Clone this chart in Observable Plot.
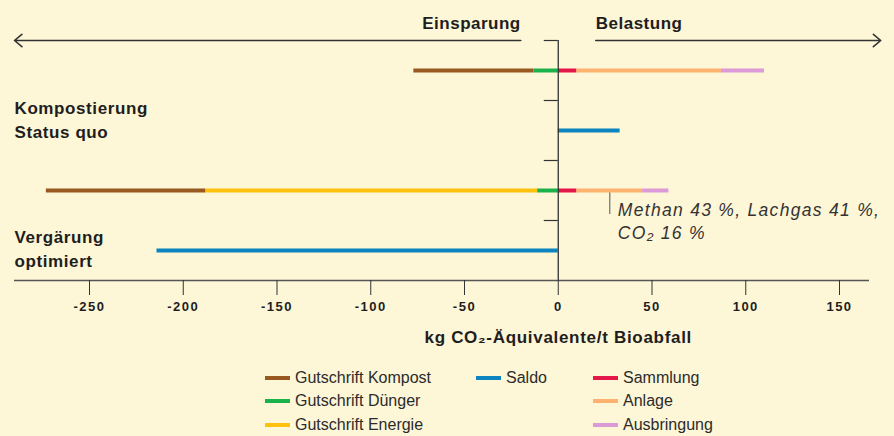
<!DOCTYPE html>
<html><head><meta charset="utf-8">
<script src="https://cdn.jsdelivr.net/npm/d3@7"></script>
<script src="https://cdn.jsdelivr.net/npm/@observablehq/plot@0.6"></script>
<style>
html,body{margin:0;padding:0;background:#fdf6d7;}
#wrap{position:relative;width:894px;height:436px;font-family:"Liberation Sans",Arial,sans-serif;color:#222;overflow:hidden;}
#legend{position:absolute;left:265px;top:366px;display:grid;grid-template-columns:211px 117px auto;grid-auto-rows:23.6px;font-size:16px;color:#2b2b2b;}
.item{display:flex;align-items:center;white-space:nowrap;}
.sw{display:inline-block;width:25px;height:4px;margin-right:5px;}
g[aria-label="x-axis tick label"]{letter-spacing:1.5px;}
</style></head><body>
<div id="wrap"><div id="chart"></div><div id="legend"></div></div>
<script>
// ---- data (kg CO2-Äquivalente / t Bioabfall) ----
const components = ["Gutschrift Kompost","Gutschrift Dünger","Gutschrift Energie","Saldo","Sammlung","Anlage","Ausbringung"];
const colors = ["#97591f","#1cb24b","#fdc20f","#0b84c0","#e4174b","#fdb26f","#dc9ad6"];
const scenarios = ["Kompostierung\nStatus quo","Vergärung\noptimiert"];
// stacking order: credits nearest zero first, then burdens
const stackComponents = ["Gutschrift Dünger","Gutschrift Energie","Gutschrift Kompost","Sammlung","Anlage","Ausbringung"];
const kompostierungValues = [-13, 0, -64, 10, 77, 23];
const vergaerungValues = [-11, -177, -85, 10, 35, 14];
const saldoValues = [33, -214];
const xTicks = [-250,-200,-150,-100,-50,0,50,100,150];
const directionLabels = ["Einsparung","Belastung"];
const directionArrows = [[-20, -290], [20, 172]];
const xTitle = "kg CO₂-Äquivalente/t Bioabfall";
const note = "Methan 43 %, Lachgas 41 %,\nCO₂ 16 %";
const legendColumns = [["Gutschrift Kompost","Gutschrift Dünger","Gutschrift Energie"],["Saldo"],["Sammlung","Anlage","Ausbringung"]];

// ---- tables ----
const segs = [];
[kompostierungValues, vergaerungValues].forEach((vals, i) => vals.forEach((v, j) => {
  if (v !== 0) segs.push({pos: 2 * i + 0.5, comp: stackComponents[j], value: v});
}));
const saldo = saldoValues.map((v, i) => ({pos: 2 * i + 1.5, comp: "Saldo", value: v}));
const arrows = directionLabels.map((l, i) => ({label: l, x1: directionArrows[i][0], x2: directionArrows[i][1]}));
const vi = (name) => vergaerungValues[stackComponents.indexOf(name)];
const pointerX = vi("Sammlung") + vi("Anlage") / 2;

const txt = "#1e1e1e";
const chart = Plot.plot({
  width: 894, height: 360,
  marginTop: 40, marginBottom: 80, marginLeft: 14, marginRight: 25,
  x: {domain: [-290, 166], axis: null},
  y: {domain: [0, 4], reverse: true, axis: null},
  color: {domain: components, range: colors},
  style: {background: "transparent", fontFamily: "'Liberation Sans', Arial, sans-serif", color: txt, overflow: "visible"},
  marks: [
    Plot.ruleX([pointerX], {y1: 2.5, y2: 2.9, stroke: "#555", strokeWidth: 1}),
    Plot.ruleY(segs, Plot.stackX({y: "pos", x: "value", stroke: "comp", strokeWidth: 4})),
    Plot.ruleY(saldo, {y: "pos", x1: 0, x2: "value", stroke: "comp", strokeWidth: 4}),
    Plot.ruleY([0, 1, 2, 3], {x1: 0, x2: 0, insetLeft: -14, stroke: "#333", strokeWidth: 1.2}),
    Plot.ruleX([0], {stroke: "#333", strokeWidth: 1.3}),
    Plot.ruleY([4], {stroke: "#555", strokeWidth: 1.6}),
    Plot.axisX({ticks: xTicks, tickSize: 15, tickPadding: 6, tickFormat: d => String(d), fontSize: 13, fontWeight: "bold", stroke: "#333", fill: txt, label: null}),
    Plot.arrow(arrows, {x1: "x1", x2: "x2", y1: 0, y2: 0, headLength: 9, headAngle: 80, strokeWidth: 1.6, stroke: "#333"}),
    Plot.text(arrows.slice(0, 1), {x: "x1", y: 0, text: "label", textAnchor: "end", lineAnchor: "bottom", dy: -12, fontSize: 17, fontWeight: "bold", fill: txt}),
    Plot.text(arrows.slice(1), {x: "x1", y: 0, text: "label", textAnchor: "start", lineAnchor: "bottom", dy: -12, fontSize: 17, fontWeight: "bold", fill: txt}),
    Plot.text([scenarios[0]], {frameAnchor: "left", y: 1.5, dy: -33.4, textAnchor: "start", lineAnchor: "top", lineHeight: 1.41, fontSize: 17, fontWeight: "bold", fill: txt}),
    Plot.text([scenarios[1]], {frameAnchor: "left", y: 3.5, dy: -24.4, textAnchor: "start", lineAnchor: "top", lineHeight: 1.41, fontSize: 17, fontWeight: "bold", fill: txt}),
    Plot.text([xTitle], {x: 0, frameAnchor: "bottom", lineAnchor: "bottom", dy: 62, fontSize: 17, fontWeight: "bold", fill: txt}),
    Plot.text([note], {x: pointerX, y: 2.5, dx: 8, dy: 10, textAnchor: "start", lineAnchor: "top", lineHeight: 1.28, fontSize: 17.5, fontStyle: "italic", fill: "#333"})
  ]
});
document.getElementById("chart").appendChild(chart);

// letter spacing per text mark (in mark order)
const textGroups = chart.querySelectorAll('g[aria-label="text"]');
const spacing = ["0.5px", "0.5px", "0.6px", "0.6px", "0.7px", "1.3px"];
textGroups.forEach((g, i) => { if (spacing[i]) g.style.letterSpacing = spacing[i]; });

// ---- legend ----
const legend = document.getElementById("legend");
legendColumns.forEach((col, c) => col.forEach((name, r) => {
  const item = document.createElement("div");
  item.className = "item";
  item.style.gridColumn = String(c + 1);
  item.style.gridRow = String(r + 1);
  const sw = document.createElement("span");
  sw.className = "sw";
  sw.style.background = colors[components.indexOf(name)];
  item.appendChild(sw);
  item.appendChild(document.createTextNode(name));
  legend.appendChild(item);
}));
</script>
</body></html>
